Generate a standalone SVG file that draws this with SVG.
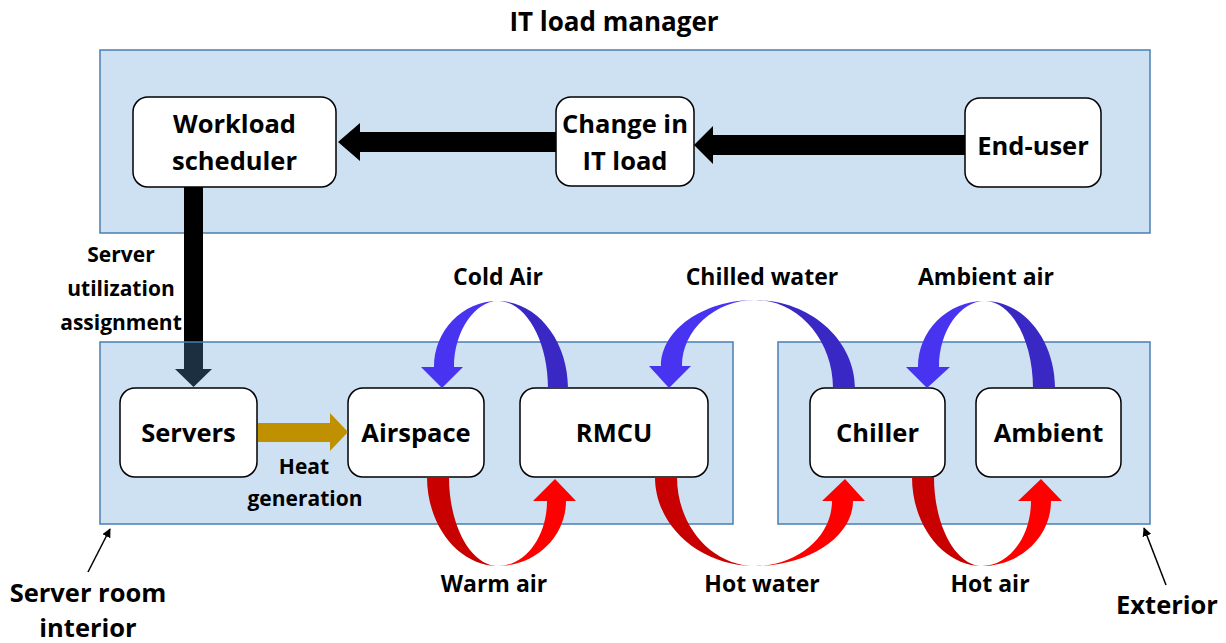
<svg xmlns="http://www.w3.org/2000/svg" width="1226" height="643" viewBox="0 0 1226 643">
<defs>
<style>
.region{fill:#5B9BD5;fill-opacity:0.3;stroke:#4A7EB0;stroke-width:1.5}
.node{fill:#ffffff;stroke:#000000;stroke-width:1.5}
.t{font-family:"Open Sans","Liberation Sans",sans-serif;font-weight:700;fill:#000;text-anchor:middle}
.nt{font-size:25.5px}
.lt{font-size:23px}
.st{font-size:21px}
.blk{fill:#000}
.blueL{fill:#4733F0}
.blueR{fill:#3A28C4}
.redL{fill:#C80000}
.redR{fill:#FF0000}
.gold{fill:#BF9000}
.ptr{stroke:#000;stroke-width:1.5;fill:none;marker-end:url(#ah)}
</style>
<marker id="ah" viewBox="0 0 10 10" refX="9" refY="5" markerWidth="9" markerHeight="9" markerUnits="userSpaceOnUse" orient="auto">
<path d="M0,0 L10,5 L0,10 Z" fill="#000"/>
</marker>
</defs>

<g id="it-load-manager">
<rect class="region" x="100" y="50" width="1050" height="183"/>
<text class="t" x="614" y="31" font-size="26">IT load manager</text>
</g>

<g id="connectors-top">
<polygon class="blk" points="965,135 713,135 713,126 694,145 713,164 713,155 965,155"/>
<polygon class="blk" points="556,132 360,132 360,123 338,142 360,161 360,152 556,152"/>
<polygon class="blk" points="184,187 184,369 175,369 193.5,387 212,369 203,369 203,187"/>
</g>

<g id="server-room-interior">
<rect class="region" x="100" y="342" width="633" height="182"/>
</g>
<g id="exterior">
<rect class="region" x="778" y="342" width="372" height="182"/>
</g>

<g id="workload-scheduler">
<rect class="node" x="133" y="97" width="203" height="90" rx="15"/>
<text class="t nt" x="234.5" y="133">Workload</text>
<text class="t nt" x="234.5" y="170">scheduler</text>
</g>
<g id="change-in-it-load">
<rect class="node" x="556" y="97" width="138" height="89" rx="15"/>
<text class="t nt" x="625" y="133">Change in</text>
<text class="t nt" x="625" y="170">IT load</text>
</g>
<g id="end-user">
<rect class="node" x="965" y="98" width="136" height="89" rx="15"/>
<text class="t nt" x="1033" y="155">End-user</text>
</g>
<g id="servers">
<rect class="node" x="120" y="388" width="137" height="89" rx="15"/>
<text class="t nt" x="188.5" y="442">Servers</text>
</g>
<g id="airspace">
<rect class="node" x="348" y="388" width="136" height="89" rx="15"/>
<text class="t nt" x="416" y="442">Airspace</text>
</g>
<g id="rmcu">
<rect class="node" x="520" y="388" width="188" height="89" rx="15"/>
<text class="t nt" x="614" y="442">RMCU</text>
</g>
<g id="chiller">
<rect class="node" x="810" y="388" width="135" height="89" rx="15"/>
<text class="t nt" x="877.5" y="442">Chiller</text>
</g>
<g id="ambient">
<rect class="node" x="976" y="388" width="145" height="89" rx="15"/>
<text class="t nt" x="1048.5" y="442">Ambient</text>
</g>

<g id="connectors">
<polygon class="gold" points="258,423 330,423 330,413 348,432 330,451 330,442 258,442"/>
<path class="blueR" d="M568,388 C568,340 536.5,301 498,301 C525.5,301 548,340 548,388 Z"/>
<path class="blueL" d="M498,301 C462,301 434,331 434,367 L421,367 L442,388 L463,367 L454,367 C454,331 475,301 498,301 Z"/>
<path class="blueR" d="M855,388 C855,340 810,300 755,300 C798,300 833,340 833,388 Z"/>
<path class="blueL" d="M755,300 C703,300 661,330 661,366 L649,366 L669,388 L691,366 L682,366 C682,330 715,300 755,300 Z"/>
<path class="blueR" d="M1055,388 C1055,340 1023.5,301 985,301 C1011,301 1033,340 1033,388 Z"/>
<path class="blueL" d="M985,301 C947,301 918,331 918,367 L906,367 L927,388 L950,367 L939,367 C939,331 960,301 985,301 Z"/>
<path class="redL" d="M427,477 C427,526 459,566 498,566 C471,566 449,526 449,477 Z"/>
<path class="redR" d="M498,566 C535,566 566,537 566,501 L576,501 L555,479 L533,501 L547,501 C547,537 525,566 498,566 Z"/>
<path class="redL" d="M655,477 C655,526 700,566 755,566 C712,566 677,526 677,477 Z"/>
<path class="redR" d="M755,566 C808,566 853,537 853,501 L865,501 L845,479 L822,501 L832,501 C832,537 797,566 755,566 Z"/>
<path class="redL" d="M912,477 C912,526 944,566 982,566 C956,566 934,526 934,477 Z"/>
<path class="redR" d="M982,566 C1020,566 1051,537 1051,501 L1062,501 L1041,479 L1018,501 L1031,501 C1031,537 1009,566 982,566 Z"/>
<line class="ptr" x1="88" y1="572" x2="110" y2="529"/>
<line class="ptr" x1="1166" y1="585" x2="1144" y2="528"/>
</g>

<g id="labels">
<text class="t st" x="121" y="262">Server</text>
<text class="t st" x="121" y="296">utilization</text>
<text class="t st" x="121" y="330">assignment</text>
<text class="t st" x="304" y="474">Heat</text>
<text class="t st" x="305" y="506">generation</text>
<text class="t lt" x="498" y="285">Cold Air</text>
<text class="t lt" x="762" y="285">Chilled water</text>
<text class="t lt" x="986" y="285">Ambient air</text>
<text class="t lt" x="494" y="592">Warm air</text>
<text class="t lt" x="762" y="592">Hot water</text>
<text class="t lt" x="990" y="592">Hot air</text>
<text class="t" x="88" y="602" font-size="25.5">Server room</text>
<text class="t" x="88" y="637" font-size="25.5">interior</text>
<text class="t" x="1167" y="614" font-size="25.5">Exterior</text>
</g>
</svg>
